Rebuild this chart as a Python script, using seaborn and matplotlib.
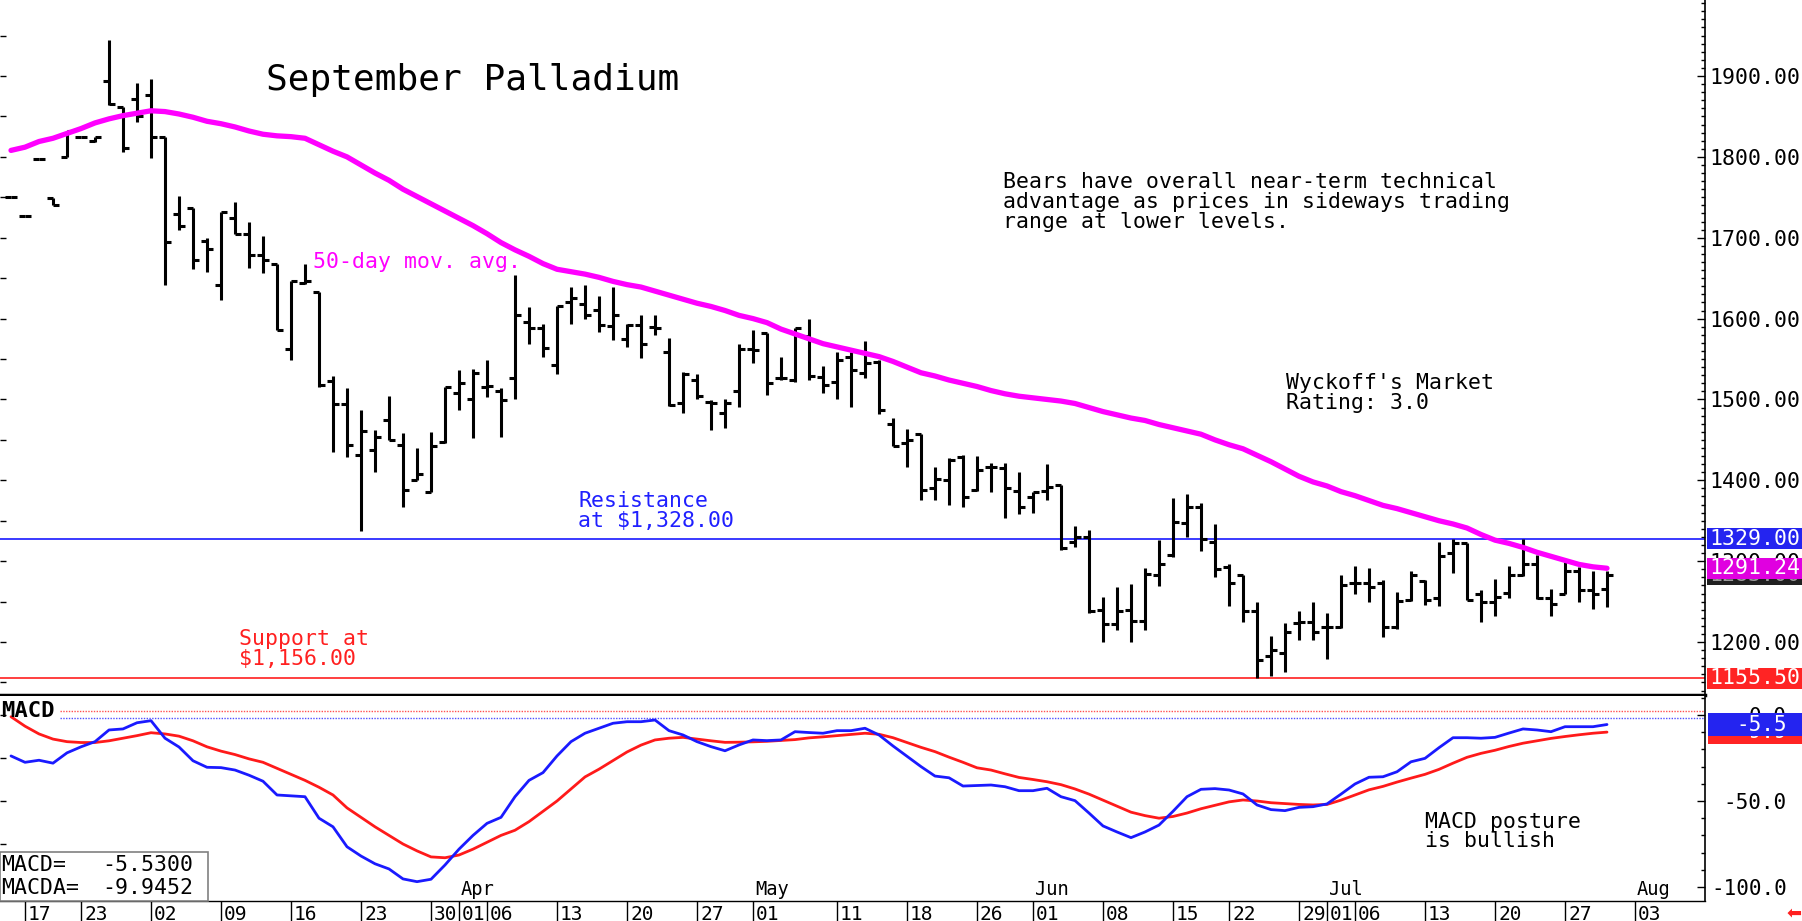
import numpy as np
import pandas as pd
import matplotlib
matplotlib.use('Agg')
import matplotlib.pyplot as plt
import matplotlib.transforms as mtransforms
from matplotlib.patches import Rectangle
from matplotlib.ticker import MultipleLocator, FormatStrFormatter
import seaborn as sns

# trading sessions on the chart (Feb 13 - Jul 30), exchange holidays skipped
holidays = ['2026-02-16', '2026-04-03', '2026-05-25', '2026-06-19', '2026-07-03']
dates = pd.bdate_range('2026-02-13', '2026-07-30', freq='C', holidays=holidays)
axis_days = pd.bdate_range('2026-02-13', '2026-08-03', freq='C', holidays=holidays)

#daily bars, September palladium
opens = [1750, 1727, 1797, 1749, 1800, 1824, 1820, 1894, 1862, 1872, 1876,
         1824, 1729, 1737, 1696, 1641, 1725, 1704, 1679, 1668, 1563,
         1644, 1633, 1523, 1494, 1431, 1437, 1475, 1444, 1401, 1385,
         1448, 1508, 1501, 1516, 1510, 1526, 1596, 1588, 1542, 1621,
         1618, 1611, 1591, 1575, 1592, 1590, 1559, 1495, 1524, 1497,
         1483, 1510, 1563, 1582, 1526, 1524, 1578, 1528, 1521, 1552,
         1533, 1546, 1470, 1446, 1457, 1390, 1401, 1429, 1388, 1417,
         1415, 1387, 1379, 1387, 1394, 1324, 1330, 1240, 1222, 1240,
         1226, 1283, 1308, 1347, 1367, 1324, 1293, 1283, 1238, 1183,
         1186, 1224, 1225, 1218, 1218, 1273, 1273, 1273, 1219, 1252,
         1275, 1255, 1310, 1322, 1260, 1250, 1261, 1283, 1296, 1255,
         1260, 1288, 1264, 1266]
highs = [1750, 1727, 1797, 1749, 1832, 1824, 1825, 1944, 1862, 1891, 1896,
         1824, 1751, 1737, 1700, 1732, 1744, 1719, 1702, 1668, 1646,
         1668, 1633, 1529, 1514, 1487, 1462, 1504, 1459, 1440, 1460,
         1516, 1536, 1538, 1549, 1514, 1654, 1614, 1593, 1616, 1639,
         1641, 1628, 1639, 1593, 1604, 1604, 1576, 1534, 1531, 1499,
         1501, 1569, 1586, 1582, 1553, 1588, 1599, 1541, 1559, 1559,
         1572, 1549, 1477, 1463, 1457, 1416, 1427, 1431, 1430, 1422,
         1421, 1410, 1386, 1420, 1394, 1344, 1339, 1256, 1268, 1272,
         1292, 1326, 1378, 1383, 1372, 1346, 1296, 1283, 1249, 1207,
         1224, 1239, 1250, 1236, 1283, 1294, 1291, 1277, 1262, 1288,
         1277, 1324, 1327, 1322, 1264, 1278, 1294, 1328, 1308, 1265,
         1299, 1293, 1288, 1288]
lows = [1750, 1727, 1797, 1740, 1800, 1824, 1819, 1864, 1806, 1843, 1798,
        1641, 1709, 1661, 1658, 1623, 1705, 1663, 1656, 1586, 1549,
        1643, 1516, 1435, 1429, 1337, 1410, 1450, 1367, 1401, 1385,
        1446, 1487, 1452, 1503, 1454, 1501, 1568, 1553, 1531, 1593,
        1600, 1583, 1573, 1565, 1551, 1580, 1492, 1483, 1501, 1462,
        1465, 1491, 1545, 1506, 1524, 1522, 1524, 1508, 1501, 1491,
        1526, 1482, 1442, 1416, 1376, 1376, 1370, 1367, 1387, 1385,
        1353, 1358, 1360, 1376, 1314, 1317, 1236, 1200, 1215, 1200,
        1215, 1269, 1305, 1330, 1313, 1281, 1244, 1225, 1155.5, 1158,
        1163, 1202, 1202, 1179, 1217, 1259, 1250, 1206, 1216, 1251,
        1246, 1244, 1285, 1252, 1225, 1232, 1254, 1282, 1253, 1232,
        1259, 1249, 1241, 1243]
closes = [1750, 1727, 1797, 1740, 1832, 1824, 1824, 1865, 1811, 1850, 1824,
          1695, 1714, 1672, 1686, 1732, 1705, 1679, 1672, 1586, 1646,
          1646, 1518, 1494, 1444, 1461, 1454, 1450, 1388, 1408, 1442,
          1516, 1520, 1533, 1517, 1499, 1605, 1588, 1564, 1616, 1626,
          1604, 1592, 1605, 1592, 1569, 1588, 1493, 1532, 1504, 1495,
          1495, 1563, 1561, 1520, 1526, 1588, 1529, 1518, 1549, 1537,
          1545, 1487, 1442, 1450, 1388, 1402, 1425, 1379, 1413, 1417,
          1390, 1367, 1386, 1392, 1316, 1330, 1238, 1222, 1239, 1226,
          1284, 1296, 1349, 1367, 1327, 1290, 1273, 1239, 1178, 1190,
          1213, 1225, 1212, 1219, 1270, 1273, 1268, 1219, 1251, 1283,
          1252, 1306, 1322, 1252, 1249, 1256, 1283, 1296, 1255, 1247,
          1288, 1264, 1259, 1283]
ma50 = [1808, 1812, 1819, 1823, 1829, 1835, 1842, 1847, 1851, 1854, 1857,
        1856, 1853, 1849, 1844, 1841, 1837, 1832, 1828, 1826, 1825,
        1823, 1815, 1807, 1800, 1790, 1780, 1771, 1760, 1751, 1742,
        1733, 1724, 1715, 1705, 1694, 1685, 1677, 1668, 1661, 1658,
        1655, 1651, 1646, 1642, 1639, 1634, 1629, 1624, 1619, 1615,
        1610, 1604, 1600, 1595, 1587, 1581, 1575, 1569, 1565, 1561,
        1557, 1553, 1547, 1540, 1533, 1529, 1524, 1520, 1516, 1511,
        1507, 1504, 1502, 1500, 1498, 1495, 1490, 1485, 1481, 1477,
        1474, 1469, 1465, 1461, 1457, 1450, 1444, 1439, 1431, 1423,
        1414, 1405, 1398, 1393, 1386, 1381, 1375, 1369, 1365, 1360,
        1355, 1350, 1346, 1341, 1333, 1326, 1322, 1317, 1311, 1306,
        1301, 1296, 1293, 1291.24]

#MACD study
macd = [-23.8, -27.5, -26.3, -28, -22, -18.5, -15.5, -8.7, -8.1, -4.5, -3.3,
        -13.5, -18.6, -26.6, -30.4, -30.6, -32, -35, -38.5, -46.5, -47,
        -47.5, -60, -65, -76.6, -82, -86.5, -89.5, -95.3, -96.9, -95.5,
        -87.2, -78, -70, -63, -59.5, -47.5, -38, -33.5, -23.8, -15.5,
        -10.6, -7.7, -4.8, -3.9, -3.9, -2.9, -9.1, -11.6, -15.5, -18.4,
        -20.8, -17.4, -14.5, -14.9, -14.5, -9.7, -10.2, -10.6, -9.1, -9.1,
        -7.7, -11.6, -18, -24, -30, -35.5, -36.5, -41.3, -41, -40.7,
        -41.7, -44, -44, -42.6, -47.5, -49.8, -57, -64.5, -68, -71.3,
        -68, -64, -56, -47.5, -43.2, -42.8, -43.6, -45.9, -52.3, -55,
        -55.6, -53.7, -53.3, -51.7, -46, -40.1, -36.2, -35.9, -33, -27.2,
        -25.2, -19, -13.2, -13.2, -13.5, -13, -10.5, -8.1, -8.7, -9.7,
        -6.8, -6.8, -6.8, -5.53]
macda = [-1, -6.5, -11, -14, -15.5, -16, -16, -15, -13.5, -12, -10.3,
         -11, -12.3, -15, -18.5, -21, -23, -25.5, -27.5, -31, -34.5,
         -38, -42, -46.5, -54, -59.5, -65, -70, -75, -79, -82.5,
         -83, -81.4, -78, -74, -70, -67, -62, -56, -50, -43,
         -36, -31.5, -26.5, -21.5, -17.5, -14.5, -13.5, -13, -14, -15,
         -15.9, -15.8, -15.6, -15.3, -14.8, -14.3, -13.3, -12.7, -12, -11.3,
         -10.6, -11.2, -13.2, -16, -18.8, -21.3, -24.5, -27.5, -30.7, -32,
         -34.2, -36.3, -37.5, -38.8, -40.5, -43, -46, -49.5, -53, -56.5,
         -58.5, -60, -59, -57, -54.5, -52.5, -50.5, -49.4, -50, -51,
         -51.5, -52, -52.3, -52, -49.5, -46.5, -43.5, -41.5, -39, -36.7,
         -34.5, -31.6, -28, -24.6, -22.3, -20.5, -18.3, -16.4, -15, -13.6,
         -12.5, -11.5, -10.6, -9.9452]

resistance = 1328.0
support = 1155.5
label_days = ['2026-02-17', '2026-02-23', '2026-03-02', '2026-03-09', '2026-03-16',
              '2026-03-23', '2026-03-30', '2026-04-01', '2026-04-06', '2026-04-13',
              '2026-04-20', '2026-04-27', '2026-05-01', '2026-05-11', '2026-05-18',
              '2026-05-26', '2026-06-01', '2026-06-08', '2026-06-15', '2026-06-22',
              '2026-06-29', '2026-07-01', '2026-07-06', '2026-07-13', '2026-07-20',
              '2026-07-27', '2026-08-03']
month_days = ['2026-04-01', '2026-05-01', '2026-06-01', '2026-07-01', '2026-08-03']
month_names = ['Apr', 'May', 'Jun', 'Jul', 'Aug']

sns.set_theme(style='white')
plt.rcParams['font.family'] = ['DejaVu Sans Mono', 'DejaVu Sans']
plt.rcParams['axes.unicode_minus'] = False

W, H = 1802, 921
fig = plt.figure(figsize=(W / 100, H / 100), dpi=100)


def fig_xy(px, py):
    return px / W, 1 - py / H


x = np.arange(len(dates))
x_lo, x_hi = -11 / 14, (1705 - 11) / 14
tick_pos = axis_days.get_indexer(pd.to_datetime(label_days))
month_pos = axis_days.get_indexer(pd.to_datetime(month_days))

#price panel
ax = fig.add_axes([0, 1 - 695 / H, 1705 / W, 695 / H])
ax.axhline(resistance, color='#2b2bff', lw=1.3, zorder=1)
ax.axhline(support, color='#ff3030', lw=1.3, zorder=1)
ax.vlines(x, lows, highs, color='black', lw=2.2, zorder=2)
ax.hlines(opens, x - 0.4, x, color='black', lw=2.2, zorder=2)
ax.hlines(closes, x, x + 0.4, color='black', lw=2.2, zorder=2)
sns.lineplot(x=x, y=ma50, color='#ff00ff', lw=3.8, ax=ax, errorbar=None, zorder=3)
ax.set_xlim(x_lo, x_hi)
ax.set_ylim(1134.5, 1994)
ax.set_xticks([])
ax.set_ylabel('')
for s in ['top', 'left']:
    ax.spines[s].set_visible(False)
ax.spines['bottom'].set_color('black')
ax.spines['bottom'].set_linewidth(2.5)
ax.spines['right'].set_color('black')
ax.spines['right'].set_linewidth(1.2)
ax.yaxis.tick_right()
ax.yaxis.set_major_locator(MultipleLocator(100))
ax.yaxis.set_minor_locator(MultipleLocator(10))
ax.yaxis.set_major_formatter(FormatStrFormatter('%.2f'))
ax.tick_params(axis='y', which='major', right=True, left=False, direction='in',
               length=6, width=1, color='black', labelsize=15.5, pad=3, labelcolor='black')
ax.tick_params(axis='y', which='minor', right=True, left=False, direction='in',
               length=3, width=1, color='black')
sec = ax.secondary_yaxis('left')
sec.yaxis.set_major_locator(MultipleLocator(50))
sec.tick_params(axis='y', left=True, direction='in', length=4, width=1,
                color='black', labelleft=False)
sec.spines['left'].set_visible(False)

#value boxes on the price scale
ptr = mtransforms.blended_transform_factory(ax.transAxes, ax.transData)
p_unit = (1994 - 1134.5) / 695
for val, txt, fc, tc, z in [(closes[-1], '%.2f' % closes[-1], '#202020', '#9a9a9a', 5),
                            (ma50[-1], '%.2f' % ma50[-1], '#e000e0', 'white', 6),
                            (resistance, '1329.00', '#2424f0', 'white', 7),
                            (support, '%.2f' % support, '#ff2424', 'white', 8)]:
    ax.add_patch(Rectangle((1707 / 1705, val - 10.5 * p_unit), 95 / 1705, 21 * p_unit,
                           transform=ptr, fc=fc, ec='none', clip_on=False, zorder=z))
    ax.text(1709 / 1705, val, txt, transform=ptr, color=tc, fontsize=15.5,
            va='center', ha='left', clip_on=False, zorder=z)

#MACD panel
ax2 = fig.add_axes([0, 1 - 901 / H, 1705 / W, 205 / H])
m_unit = 1 / 1.72
ax2.axhline(2.3, xmin=60 / 1705, color='#ff5050', lw=1, ls=(0, (1, 1)))
ax2.axhline(-1.7, xmin=60 / 1705, color='#5050ff', lw=1, ls=(0, (1, 1)))
sns.lineplot(x=x, y=macda, color='#ff1a1a', lw=2, ax=ax2, errorbar=None)
sns.lineplot(x=x, y=macd, color='#1a1aff', lw=2, ax=ax2, errorbar=None)
ax2.set_xlim(x_lo, x_hi)
ax2.set_ylim(-108.14, 11.05)
ax2.set_xticks([])
ax2.set_ylabel('')
for s in ['top', 'left']:
    ax2.spines[s].set_visible(False)
ax2.spines['bottom'].set_color('black')
ax2.spines['bottom'].set_linewidth(1)
ax2.spines['right'].set_color('black')
ax2.spines['right'].set_linewidth(1.2)
ax2.yaxis.tick_right()
ax2.yaxis.set_major_locator(MultipleLocator(50))
ax2.yaxis.set_minor_locator(MultipleLocator(10))
ax2.yaxis.set_major_formatter(FormatStrFormatter('%.1f'))
ax2.tick_params(axis='y', which='major', right=True, left=False, direction='in',
                length=6, width=1, color='black', labelsize=15, pad=59, labelcolor='black')
ax2.tick_params(axis='y', which='minor', right=True, left=False, direction='in',
                length=3, width=1, color='black')
for t in ax2.yaxis.get_major_ticks():
    t.label2.set_horizontalalignment('right')
sec2 = ax2.secondary_yaxis('left')
sec2.yaxis.set_major_locator(MultipleLocator(25))
sec2.tick_params(axis='y', left=True, direction='in', length=4, width=1,
                 color='black', labelleft=False)
sec2.spines['left'].set_visible(False)

mtr = mtransforms.blended_transform_factory(ax2.transAxes, ax2.transData)
for val, txt, fc, z in [(macda[-1], '%.1f' % macda[-1], '#ff2424', 5),
                        (macd[-1], '%.1f' % macd[-1], '#2424f0', 6)]:
    ax2.add_patch(Rectangle((1708 / 1705, val - 11.5 * m_unit), 95 / 1705, 23 * m_unit,
                            transform=mtr, fc=fc, ec='none', clip_on=False, zorder=z))
    ax2.text(1787 / 1705, val, txt, transform=mtr, color='white', fontsize=15,
             va='center', ha='right', clip_on=False, zorder=z)

mon_tr = mtransforms.blended_transform_factory(ax2.transData, ax2.transAxes)
for p, name in zip(month_pos, month_names):
    ax2.text(p + 2 / 14, 6 / 205, name, transform=mon_tr, fontsize=13.5,
             va='baseline', ha='left', color='black', clip_on=False)

#date strip
ax3 = fig.add_axes([0, 0, 1705 / W, 20 / H])
ax3.set_xlim(x_lo, x_hi)
ax3.set_ylim(0, 1)
ax3.axis('off')
ax3.vlines(tick_pos, 0, 1, color='black', lw=1)
for p, d in zip(tick_pos, label_days):
    ax3.text(p + 3 / 14, 0.03, d[-2:], fontsize=14, va='baseline', ha='left',
             color='black', clip_on=False)

#annotations
fig.text(*fig_xy(266, 90), 'September Palladium', fontsize=26, va='baseline', color='black')
for k, line in enumerate(['Bears have overall near-term technical',
                          'advantage as prices in sideways trading',
                          'range at lower levels.']):
    fig.text(*fig_xy(1003, 188 + 20 * k), line, fontsize=15.5, va='baseline', color='black')
for k, line in enumerate(["Wyckoff's Market", 'Rating: 3.0']):
    fig.text(*fig_xy(1286, 389 + 20 * k), line, fontsize=15.5, va='baseline', color='black')
fig.text(*fig_xy(313, 268), '50-day mov. avg.', fontsize=15.5, va='baseline', color='#ff00ff')
for k, line in enumerate(['Resistance', 'at $1,328.00']):
    fig.text(*fig_xy(578, 507 + 20 * k), line, fontsize=15.5, va='baseline', color='#2020ff')
for k, line in enumerate(['Support at', '$1,156.00']):
    fig.text(*fig_xy(239, 645 + 20 * k), line, fontsize=15.5, va='baseline', color='#ff2020')
for k, line in enumerate(['MACD posture', 'is bullish']):
    fig.text(*fig_xy(1425, 828 + 19 * k), line, fontsize=15.5, va='baseline', color='black')
fig.text(*fig_xy(1, 717), 'MACD', fontsize=16, fontweight='bold', va='baseline', color='black')

fig.add_artist(Rectangle(fig_xy(0, 901), 208 / W, 49 / H, transform=fig.transFigure,
                         fc='white', ec='#808080', lw=1.2))
fig.text(*fig_xy(1, 871), 'MACD=', fontsize=15.5, va='baseline', color='black')
fig.text(*fig_xy(193, 871), '%.4f' % macd[-1], fontsize=15.5, va='baseline', ha='right', color='black')
fig.text(*fig_xy(1, 894), 'MACDA=', fontsize=15.5, va='baseline', color='black')
fig.text(*fig_xy(193, 894), '%.4f' % macda[-1], fontsize=15.5, va='baseline', ha='right', color='black')
fig.text(*fig_xy(1794, 913), '\u2b05', fontsize=13, ha='center', va='center',
         color='#ff2020', family=['DejaVu Sans'])

fig.savefig('out.png', dpi=100)
